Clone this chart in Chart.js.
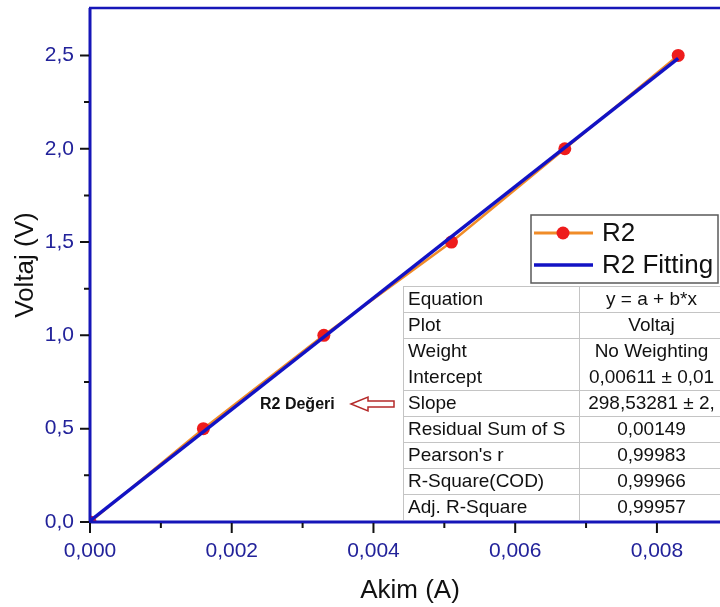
<!DOCTYPE html>
<html>
<head>
<meta charset="utf-8">
<script src="https://cdn.jsdelivr.net/npm/chart.js@4.4.0/dist/chart.umd.min.js"></script>
<style>
  html, body { margin: 0; padding: 0; background: #fff; }
  canvas { display: block; }
</style>
</head>
<body>
<canvas id="chart" width="720" height="607"></canvas>
<script>
// Measured values: current (A) and voltage (V)
const akim = [0, 0.0016, 0.0033, 0.0051, 0.0067, 0.0083];
const voltaj = [0, 0.5, 1.0, 1.5, 2.0, 2.5];

// Linear fit y = a + b*x, end points
const fitAkim = [0, 0.0083];
const fitVoltaj = [0.00611, 2.48393];

// Tick values
const xTicks = [0, 0.002, 0.004, 0.006, 0.008];
const yTicks = [0, 0.5, 1.0, 1.5, 2.0, 2.5];

const legendLabels = ["R2", "R2 Fitting"];
const tableLabels = ["Equation", "Plot", "Weight", "Intercept", "Slope",
  "Residual Sum of S", "Pearson's r", "R-Square(COD)", "Adj. R-Square"];
const tableValues = ["y = a + b*x", "Voltaj", "No Weighting", "0,00611 \u00b1 0,01",
  "298,53281 \u00b1 2,", "0,00149", "0,99983", "0,99966", "0,99957"];
const noteText = "R2 De\u011feri";

const FONT = '"Liberation Sans", Arial, sans-serif';
const AXIS_BLUE = "#1616b8";
const LABEL_BLUE = "#22229a";
const ORANGE = "#f08c28";
const RED = "#ee1c1c";
const FIT_BLUE = "#1212c4";

const ctx = document.getElementById("chart").getContext("2d");

// no extra room for edge labels, the plot runs to the canvas edge
function noPadding(scale) {
  scale.paddingTop = 0;
  scale.paddingBottom = 0;
  scale.paddingLeft = 0;
  scale.paddingRight = 0;
}

// Draws axes, ticks, titles, legend, fit table and note
const decorPlugin = {
  id: "decor",
  afterDraw(chart) {
    const c = chart.ctx;
    const a = chart.chartArea;
    const xs = chart.scales.x;
    const ys = chart.scales.y;
    c.save();

    // fit result table
    const tLeft = 403, tTop = 286, rowH = 26, colX = 579, tRight = 724;
    c.fillStyle = "#fff";
    c.fillRect(tLeft, tTop, tRight - tLeft, rowH * tableLabels.length);
    c.strokeStyle = "#c4c4c4";
    c.lineWidth = 1;
    c.beginPath();
    c.moveTo(tLeft + 0.5, tTop); c.lineTo(tLeft + 0.5, tTop + rowH * tableLabels.length);
    c.moveTo(colX + 0.5, tTop); c.lineTo(colX + 0.5, tTop + rowH * tableLabels.length);
    c.moveTo(tLeft, tTop + 0.5); c.lineTo(tRight, tTop + 0.5);
    for (let i = 1; i < tableLabels.length; i++) {
      if (i === 3) continue;
      const yy = tTop + rowH * i + 0.5;
      c.moveTo(tLeft, yy); c.lineTo(tRight, yy);
    }
    c.stroke();
    c.font = "19px " + FONT;
    c.fillStyle = "#111";
    c.textBaseline = "middle";
    tableLabels.forEach(function(label, i) {
      const yy = tTop + rowH * i + rowH / 2 + 1;
      c.textAlign = "left";
      c.fillText(label, tLeft + 5, yy);
      c.save();
      c.beginPath();
      c.rect(colX + 1, tTop, tRight - colX - 1, rowH * tableLabels.length);
      c.clip();
      c.textAlign = "center";
      c.fillText(tableValues[i], (colX + tRight) / 2, yy);
      c.restore();
    });

    // legend box
    const lx = 531, ly = 215, lw = 187, lh = 68;
    c.fillStyle = "#fff";
    c.fillRect(lx, ly, lw, lh);
    c.strokeStyle = "#5a5a5a";
    c.lineWidth = 1.5;
    c.strokeRect(lx, ly, lw, lh);
    c.lineWidth = 3;
    c.strokeStyle = ORANGE;
    c.beginPath(); c.moveTo(lx + 3, 233); c.lineTo(lx + 62, 233); c.stroke();
    c.fillStyle = RED;
    c.beginPath(); c.arc(lx + 32, 233, 6.5, 0, Math.PI * 2); c.fill();
    c.strokeStyle = FIT_BLUE;
    c.lineWidth = 3.5;
    c.beginPath(); c.moveTo(lx + 3, 265); c.lineTo(lx + 62, 265); c.stroke();
    c.fillStyle = "#111";
    c.font = "26px " + FONT;
    c.textAlign = "left";
    c.textBaseline = "middle";
    c.fillText(legendLabels[0], lx + 71, 234);
    c.fillText(legendLabels[1], lx + 71, 266);

    // note with hollow arrow
    c.font = "bold 16px " + FONT;
    c.fillStyle = "#111";
    c.textAlign = "left";
    c.fillText(noteText, 260, 405);
    c.strokeStyle = "#b52a2a";
    c.fillStyle = "#fff";
    c.lineWidth = 1.5;
    c.beginPath();
    c.moveTo(351, 404);
    c.lineTo(368, 397); c.lineTo(368, 401); c.lineTo(394, 401);
    c.lineTo(394, 407); c.lineTo(368, 407); c.lineTo(368, 411);
    c.closePath();
    c.fill(); c.stroke();

    // axis lines
    c.strokeStyle = AXIS_BLUE;
    c.lineWidth = 3;
    c.beginPath();
    c.moveTo(a.left, a.top); c.lineTo(a.left, a.bottom);
    c.moveTo(a.left - 1, a.bottom); c.lineTo(a.right, a.bottom);
    c.stroke();
    c.lineWidth = 2.5;
    c.beginPath(); c.moveTo(a.left - 1, a.top); c.lineTo(a.right, a.top); c.stroke();

    // major and minor ticks
    c.strokeStyle = "#111";
    c.lineWidth = 2;
    c.beginPath();
    xs.ticks.forEach(function(t, i) {
      const px = xs.getPixelForValue(t.value);
      c.moveTo(px, a.bottom + 1); c.lineTo(px, a.bottom + 11);
      const next = i + 1 < xs.ticks.length ? xs.ticks[i + 1].value : t.value + 0.002;
      const mx = xs.getPixelForValue((t.value + next) / 2);
      if (mx < a.right) { c.moveTo(mx, a.bottom + 1); c.lineTo(mx, a.bottom + 6); }
    });
    ys.ticks.forEach(function(t, i) {
      const py = ys.getPixelForValue(t.value);
      c.moveTo(a.left - 1, py); c.lineTo(a.left - 10, py);
      const next = i + 1 < ys.ticks.length ? ys.ticks[i + 1].value : t.value + 0.5;
      const my = ys.getPixelForValue((t.value + next) / 2);
      if (my > a.top + 2) { c.moveTo(a.left - 1, my); c.lineTo(a.left - 6, my); }
    });
    c.stroke();

    // axis titles
    c.fillStyle = "#111";
    c.font = "26px " + FONT;
    c.textAlign = "center";
    c.textBaseline = "alphabetic";
    c.fillText("Akim (A)", 410, 598);
    c.save();
    c.translate(33, 265);
    c.rotate(-Math.PI / 2);
    c.fillText("Voltaj (V)", 0, 0);
    c.restore();

    c.restore();
  }
};

const chart = new Chart(ctx, {
  type: "scatter",
  data: {
    datasets: [
      {
        label: legendLabels[1],
        data: fitAkim.map((x, i) => ({ x: x, y: fitVoltaj[i] })),
        showLine: true,
        borderColor: FIT_BLUE,
        borderWidth: 3.5,
        pointRadius: 0
      },
      {
        label: legendLabels[0],
        data: akim.map((x, i) => ({ x: x, y: voltaj[i] })),
        showLine: true,
        borderColor: ORANGE,
        borderWidth: 2.5,
        pointRadius: 6.5,
        pointBorderWidth: 0,
        pointBackgroundColor: RED
      }
    ]
  },
  options: {
    responsive: false,
    animation: false,
    layout: { autoPadding: false, padding: { top: 8, right: 0, left: 0, bottom: 0 } },
    plugins: { legend: { display: false }, tooltip: { enabled: false } },
    scales: {
      x: {
        type: "linear",
        min: 0,
        max: 0.00889,
        afterFit: function(scale) { scale.height = 85; noPadding(scale); },
        afterBuildTicks: function(scale) { scale.ticks = xTicks.map(v => ({ value: v })); },
        grid: { display: false },
        border: { display: false },
        ticks: {
          color: LABEL_BLUE,
          font: { size: 21, family: FONT },
          padding: 9,
          maxRotation: 0,
          autoSkip: false,
          callback: v => v.toFixed(3).replace(".", ",")
        }
      },
      y: {
        type: "linear",
        min: 0,
        max: 2.754,
        afterFit: function(scale) { scale.width = 90; noPadding(scale); },
        afterBuildTicks: function(scale) { scale.ticks = yTicks.map(v => ({ value: v })); },
        grid: { display: false },
        border: { display: false },
        ticks: {
          color: LABEL_BLUE,
          font: { size: 21, family: FONT },
          padding: 8,
          autoSkip: false,
          callback: v => v.toFixed(1).replace(".", ",")
        }
      }
    }
  },
  plugins: [decorPlugin]
});
</script>
</body>
</html>
